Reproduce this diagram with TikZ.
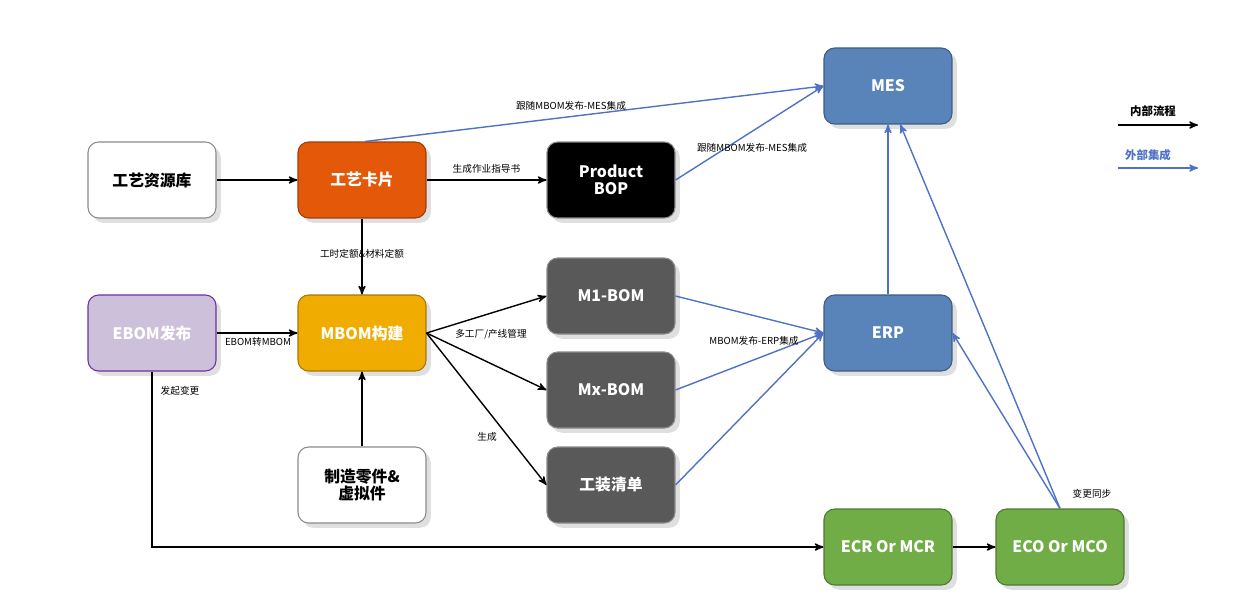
\documentclass[tikz,border=0pt]{standalone}
\usepackage{fontspec}
\setmainfont{Noto Sans CJK SC}
\usetikzlibrary{arrows,shadows}
\definecolor{box_gray}{RGB}{89,89,89}
\definecolor{box_orange}{RGB}{228,88,10}
\definecolor{box_yellow}{RGB}{240,172,0}
\definecolor{box_purple}{RGB}{204,192,218}
\definecolor{edge_purple}{RGB}{112,48,160}
\definecolor{box_blue}{RGB}{88,132,186}
\definecolor{box_green}{RGB}{112,173,71}
\definecolor{edge_blue}{RGB}{79,114,196}

\begin{document}
\begin{tikzpicture}[x=0.02cm,y=-0.02cm,semithick,>=stealth']
    \tikzstyle{box}=[rectangle, rounded corners=6pt, minimum width=2.56cm, minimum height=1.52cm, align=center, font=\bfseries\fontsize{9}{10}\selectfont, text=white, draw=box_gray!70, drop shadow={opacity=0.25}]
    \tikzstyle{wbox}=[style=box, fill=white, text=black]
    \tikzstyle{gbox}=[style=box, fill=box_gray]
    \tikzstyle{bbox}=[style=box, fill=box_blue, draw=box_blue!70!black]
    \tikzstyle{cbox}=[style=box, fill=box_green, draw=box_green!70!black]
    \tikzstyle{lbl}=[font=\fontsize{5.5}{6}\selectfont, text=black]
    \tikzstyle{inner}=[->, thick, black]
    \tikzstyle{outer}=[->, thick, edge_blue]

    \useasboundingbox (0,0) rectangle (1242,606);

    \node[wbox] (res) at (152,180) {工艺资源库};
    \node[box, fill=box_orange, draw=box_orange!70!black] (card) at (362,180) {工艺卡片};
    \node[box, fill=black] (bop) at (611,180) {Product\\BOP};
    \node[bbox] (mes) at (888,86) {MES};
    \node[box, fill=box_purple, draw=edge_purple] (ebom) at (152,333) {EBOM发布};
    \node[box, fill=box_yellow, draw=box_yellow!70!black] (mbom) at (362,333) {MBOM构建};
    \node[gbox] (m1) at (611,296) {M1-BOM};
    \node[gbox] (mx) at (611,390) {Mx-BOM};
    \node[gbox] (tool) at (611,485) {工装清单};
    \node[bbox] (erp) at (888,333) {ERP};
    \node[wbox] (part) at (362,485) {制造零件\&\\虚拟件};
    \node[cbox] (ecr) at (888,547) {ECR Or MCR};
    \node[cbox] (eco) at (1060,547) {ECO Or MCO};

    % internal flow
    \draw[inner] (res) -- (card);
    \draw[inner] (card) -- node[lbl, above] {生成作业指导书} (bop);
    \draw[inner] (card) -- node[lbl, pos=0.45] (q) {} (mbom);
    \node[lbl] (qt) at (362,254) {工时定额\&材料定额};
    \draw[inner] (ebom) -- (mbom);
    \node[lbl] (et) at (258,342) {EBOM转MBOM};
    \draw[inner] (part) -- (mbom);
    \draw[inner] (mbom.east) -- (m1.west);
    \draw[inner] (mbom.east) -- (mx.west);
    \draw[inner] (mbom.east) -- (tool.west);
    \node[lbl] (mt) at (491,334) {多工厂/产线管理};
    \node[lbl] (gt) at (487,437) {生成};
    \draw[inner] (ebom.south) ++(0,0) |- (ecr.west);
    \node[lbl] (bt) at (180,391) {发起变更};
    \draw[inner] (ecr) -- (eco);

    % external integration
    \draw[outer] (card.north) ++(3,0) coordinate (c1) -- (mes.west);
    \node[lbl] (ct) at (571,106) {跟随MBOM发布-MES集成};
    \draw[outer] (bop.east) -- (mes.west);
    \node[lbl] (pt) at (752,148) {跟随MBOM发布-MES集成};
    \draw[outer] (m1.east) -- (erp.west);
    \draw[outer] (mx.east) -- (erp.west);
    \draw[outer] (tool.east) -- (erp.west);
    \node[lbl] (rt) at (754,341) {MBOM发布-ERP集成};
    \draw[outer] (erp) -- (mes);
    \draw[outer] (eco.north) -- ([xshift=7]mes.south);
    \draw[outer] (eco.north) -- (erp.east);
    \node[lbl] (st) at (1092,494) {变更同步};

    % legend
    \node[font=\bfseries\fontsize{6.5}{7}\selectfont] (l1) at (1153,111) {内部流程};
    \coordinate (a1) at (1118,125);
    \coordinate (a2) at (1198,125);
    \draw[inner] (a1) -- (a2);
    \node[font=\bfseries\fontsize{6.5}{7}\selectfont, text=edge_blue] (l2) at (1148,155) {外部集成};
    \coordinate (b1) at (1118,168);
    \coordinate (b2) at (1198,168);
    \draw[outer] (b1) -- (b2);
\end{tikzpicture}
\end{document}
